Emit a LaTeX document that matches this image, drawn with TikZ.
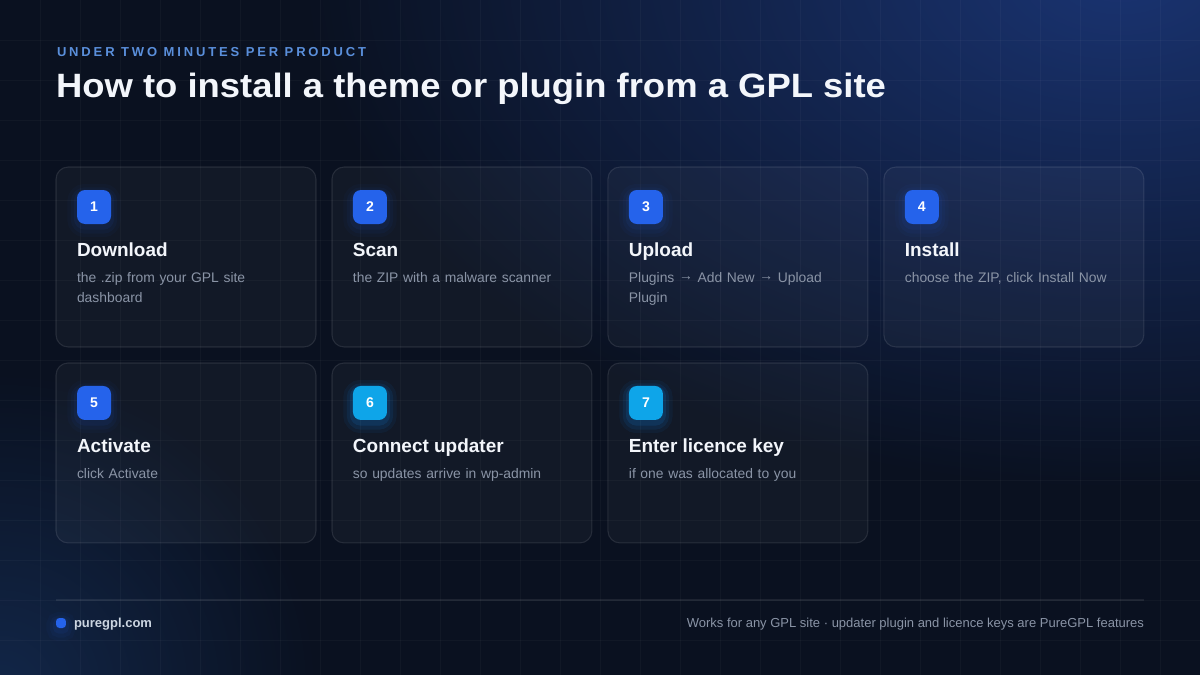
\documentclass[tikz,border=0pt]{standalone}
\usepackage{fontspec}
\setmainfont{Liberation Sans}
\usepackage{tikz}
\usetikzlibrary{positioning,fadings}

\definecolor{bgnavy}{HTML}{0A1120}
\definecolor{glowblue}{HTML}{1A3472}
\definecolor{glowdim}{HTML}{16305A}
\definecolor{kickerblue}{HTML}{5A8FDB}
\definecolor{inkwhite}{HTML}{F3F6FB}
\definecolor{muted}{HTML}{8A94A6}
\definecolor{badgeblue}{HTML}{2563EB}
\definecolor{badgesky}{HTML}{0EA5E9}
\definecolor{sitegray}{HTML}{CBD5E1}

\tikzfading[name=softglow, inner color=transparent!0, outer color=transparent!100]
\newcommand{\toarrow}{\raisebox{1pt}{→}}

\begin{document}
\begin{tikzpicture}[
  x=0.02cm, y=-0.02cm,
  node distance=0.32cm,
  every node/.style={inner sep=0pt, outer sep=0pt},
  card/.style={draw=white, draw opacity=0.10, fill=white, fill opacity=0.035, line width=0.6pt, rounded corners=0.24cm, minimum width=5.2cm, minimum height=3.6cm},
  glow/.style={
    preaction={draw=#1, draw opacity=0.035, line width=11pt, transform canvas={yshift=-2pt}},
    preaction={draw=#1, draw opacity=0.05, line width=7pt, transform canvas={yshift=-2pt}},
    preaction={draw=#1, draw opacity=0.07, line width=3.5pt, transform canvas={yshift=-1.5pt}}},
  badge/.style={fill=badgeblue, glow=badgeblue, rounded corners=0.16cm, minimum size=0.68cm, text=white, font=\fontsize{8}{8}\selectfont\bfseries},
  skybadge/.style={badge, fill=badgesky, glow=badgesky},
  head/.style={text=inkwhite, font=\fontsize{10.8}{13}\selectfont\bfseries},
  desc/.style={text=muted, font=\fontsize{7.9}{11.2}\selectfont, text width=4.4cm, align=left},
  gridline/.style={draw=white, draw opacity=0.03, line width=0.4pt}
]
\useasboundingbox (0,0) rectangle (1200,675);
% background and glows
\fill[bgnavy] (0,0) rectangle (1200,675);
\begin{scope}
  \clip (0,0) rectangle (1200,675);
  \fill[glowblue, path fading=softglow] (1120,-30) ellipse (820 and 520);
  \fill[glowdim, path fading=softglow, fill opacity=0.7] (0,690) circle (320);
  \foreach \gx in {40,80,...,1160} \draw[gridline] (\gx,0) -- (\gx,675);
  \foreach \gy in {40,80,...,640} \draw[gridline] (0,\gy) -- (1200,\gy);
\end{scope}

% header
\node[anchor=base west, text=kickerblue, font=\fontsize{7.4}{9}\selectfont\bfseries\addfontfeatures{LetterSpace=22}] (kicker) at (57,57) {UNDER TWO MINUTES PER PRODUCT};
\node[anchor=base west, text=inkwhite, font=\fontsize{19.2}{22}\selectfont\bfseries\addfontfeatures{FakeStretch=1.08}] (title) at (56,98) {How to install a theme or plugin from a GPL site};

% cards
\node[card] (c1) at (186,257) {};
\node[card, right=of c1] (c2) {};
\node[card, right=of c2] (c3) {};
\node[card, right=of c3] (c4) {};
\node[card, below=of c1] (c5) {};
\node[card, right=of c5] (c6) {};
\node[card, right=of c6] (c7) {};

% step 1
\node[badge, below right=0.46cm and 0.42cm of c1.north west] (n1) {1};
\node[head, below right=1.8cm and 0.42cm of c1.north west, anchor=base west] (h1) {Download};
\node[desc, below right=2.31cm and 0.42cm of c1.north west, anchor=base west] (d1) {the .zip from your GPL site\\dashboard};
% step 2
\node[badge, below right=0.46cm and 0.42cm of c2.north west] (n2) {2};
\node[head, below right=1.8cm and 0.42cm of c2.north west, anchor=base west] (h2) {Scan};
\node[desc, below right=2.31cm and 0.42cm of c2.north west, anchor=base west] (d2) {the ZIP with a malware scanner};
% step 3
\node[badge, below right=0.46cm and 0.42cm of c3.north west] (n3) {3};
\node[head, below right=1.8cm and 0.42cm of c3.north west, anchor=base west] (h3) {Upload};
\node[desc, below right=2.31cm and 0.42cm of c3.north west, anchor=base west] (d3) {Plugins \toarrow{} Add New \toarrow{} Upload\\Plugin};
% step 4
\node[badge, below right=0.46cm and 0.42cm of c4.north west] (n4) {4};
\node[head, below right=1.8cm and 0.42cm of c4.north west, anchor=base west] (h4) {Install};
\node[desc, below right=2.31cm and 0.42cm of c4.north west, anchor=base west] (d4) {choose the ZIP, click Install Now};
% step 5
\node[badge, below right=0.46cm and 0.42cm of c5.north west] (n5) {5};
\node[head, below right=1.8cm and 0.42cm of c5.north west, anchor=base west] (h5) {Activate};
\node[desc, below right=2.31cm and 0.42cm of c5.north west, anchor=base west] (d5) {click Activate};
% step 6
\node[skybadge, below right=0.46cm and 0.42cm of c6.north west] (n6) {6};
\node[head, below right=1.8cm and 0.42cm of c6.north west, anchor=base west] (h6) {Connect updater};
\node[desc, below right=2.31cm and 0.42cm of c6.north west, anchor=base west] (d6) {so updates arrive in wp-admin};
% step 7
\node[skybadge, below right=0.46cm and 0.42cm of c7.north west] (n7) {7};
\node[head, below right=1.8cm and 0.42cm of c7.north west, anchor=base west] (h7) {Enter licence key};
\node[desc, below right=2.31cm and 0.42cm of c7.north west, anchor=base west] (d7) {if one was allocated to you};

% footer
\draw[draw=white, draw opacity=0.08, line width=0.6pt] (56,600) -- (1144,600);
\node[fill=badgeblue, glow=badgeblue, rounded corners=0.07cm, minimum size=0.2cm] (dot) at (61,623) {};
\node[anchor=base west, text=sitegray, font=\fontsize{7.4}{9}\selectfont\bfseries] (site) at (74,627) {puregpl.com};
\node[anchor=base east, text=muted, font=\fontsize{7.4}{9}\selectfont] (note) at (1144,627) {Works for any GPL site · updater plugin and licence keys are PureGPL features};
\end{tikzpicture}
\end{document}
